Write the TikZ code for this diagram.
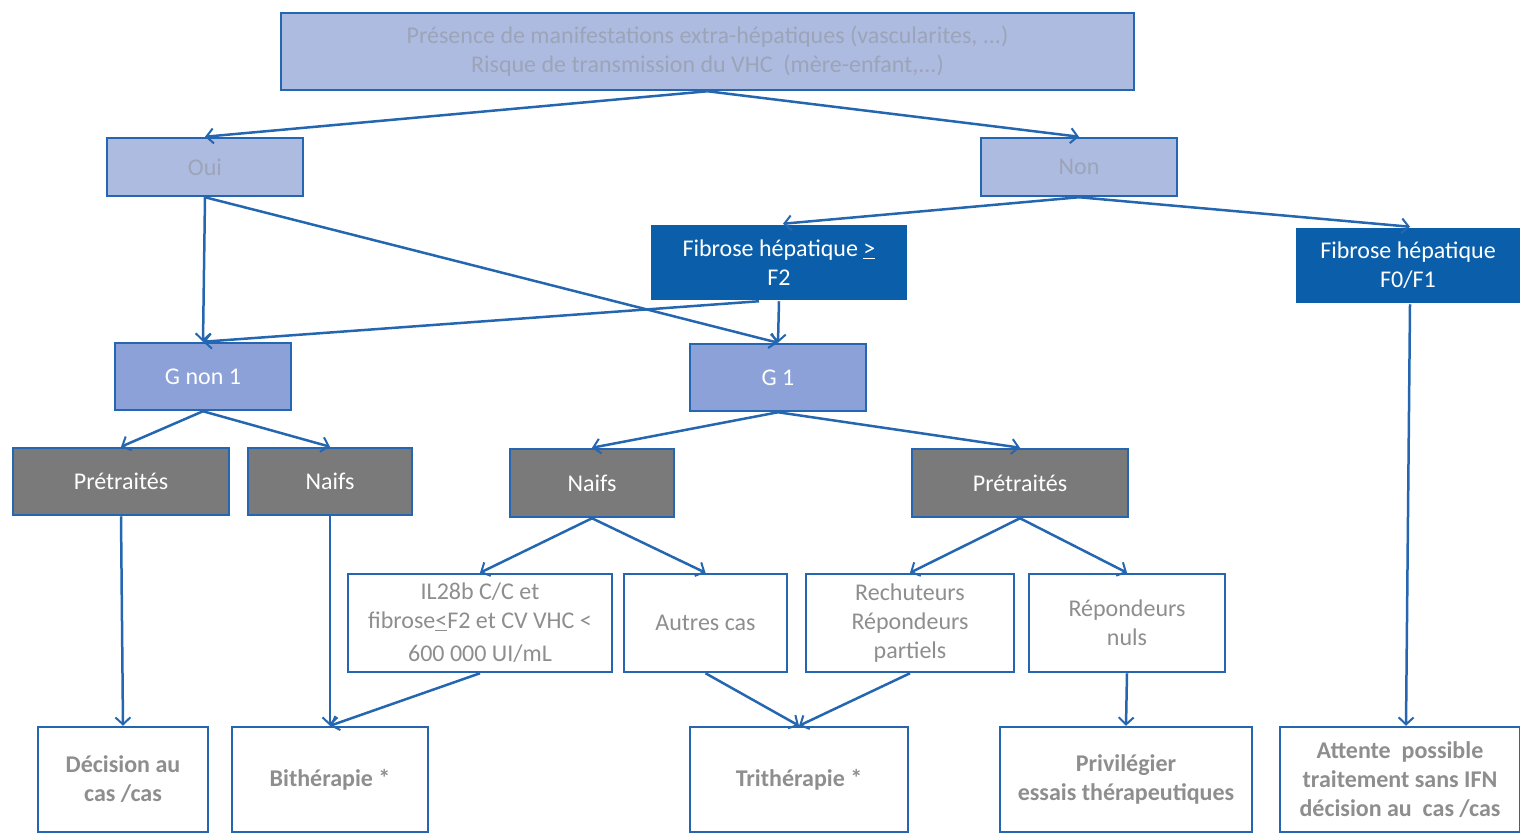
\documentclass[tikz,border=0pt]{standalone}
\usepackage{fontspec}
\setmainfont{Carlito}
\usetikzlibrary{arrows.meta}
\definecolor{bordblue}{HTML}{2467B0}
\definecolor{paleblue}{HTML}{AEBBE0}
\definecolor{midblue}{HTML}{8CA1D8}
\definecolor{darkblue}{HTML}{0B5EA9}
\definecolor{boxgray}{HTML}{7A7A7A}
\definecolor{txtgray}{HTML}{8E8E8E}
\definecolor{paletxt}{HTML}{9CA4B8}
\tikzset{
  box/.style={draw=bordblue, line width=2.5pt, inner sep=2pt, align=center,
    font=\fontsize{24}{29}\selectfont},
  palebox/.style={box, fill=paleblue, text=paletxt},
  gbox/.style={box, fill=midblue, text=white},
  fbox/.style={box, draw=none, fill=darkblue, text=white},
  graybox/.style={box, fill=boxgray, text=white},
  casebox/.style={box, fill=white, text=txtgray},
  endbox/.style={box, fill=white, text=txtgray, font=\fontsize{24}{29}\selectfont\bfseries},
  link/.style={draw=bordblue, line width=2.5pt, -{Straight Barb[length=7pt,width=15pt,line width=2pt]}}
}
\begin{document}
\begin{tikzpicture}[x=1pt,y=-1pt]
  \useasboundingbox (0,0) rectangle (1520,835);
  % first question
  \node[palebox, minimum width=853pt, minimum height=77pt] (top) at (707.5,51.5)
    {Présence de manifestations extra-hépatiques (vascularites, ...)\\Risque de transmission du VHC~ (mère-enfant,...)};
  \node[palebox, minimum width=196pt, minimum height=58pt] (oui) at (205,167) {Oui};
  \node[palebox, minimum width=196pt, minimum height=58pt] (non) at (1079,167) {Non};
  % fibrose
  \node[fbox, minimum width=256pt, minimum height=75pt] (f2) at (779,262.5) {Fibrose hépatique \underline{>}\\F2};
  \node[fbox, minimum width=224pt, minimum height=75pt] (f01) at (1408,265.5) {Fibrose hépatique\\F0/F1};
  % genotypes
  \node[gbox, minimum width=176pt, minimum height=67pt] (gn1) at (203,376.5) {G non 1};
  \node[gbox, minimum width=176pt, minimum height=67pt] (g1) at (778,377.5) {G 1};
  % patients
  \node[graybox, minimum width=216pt, minimum height=67pt] (pretL) at (121,481.5) {Prétraités};
  \node[graybox, minimum width=164pt, minimum height=67pt] (naifL) at (330,481.5) {Naifs};
  \node[graybox, minimum width=164pt, minimum height=68pt] (naifM) at (592,483) {Naifs};
  \node[graybox, minimum width=216pt, minimum height=68pt] (pretR) at (1020,483) {Prétraités};
  % cases
  \node[casebox, minimum width=264pt, minimum height=98pt] (il28) at (480,623)
    {IL28b C/C et\\fibrose\underline{<}F2 et CV VHC <\\[4pt]600 000 UI/mL};
  \node[casebox, minimum width=163pt, minimum height=98pt] (autres) at (705.5,623) {Autres cas};
  \node[casebox, minimum width=208pt, minimum height=98pt] (rech) at (910,623) {Rechuteurs\\Répondeurs\\partiels};
  \node[casebox, minimum width=196pt, minimum height=98pt] (repn) at (1127,623) {Répondeurs\\nuls};
  % decisions
  \node[endbox, minimum width=170pt, minimum height=105pt] (deci) at (123,779.5) {Décision au\\cas /cas};
  \node[endbox, minimum width=196pt, minimum height=105pt] (bithe) at (330,779.5) {Bithérapie *};
  \node[endbox, minimum width=218pt, minimum height=105pt] (trithe) at (799,779.5) {Trithérapie *};
  \node[endbox, minimum width=252pt, minimum height=105pt] (privi) at (1126,779.5) {Privilégier\\essais thérapeutiques};
  \node[endbox, minimum width=240pt, minimum height=105pt] (atte) at (1400,779.5)
    {Attente~ possible\\traitement sans IFN\\décision au~ cas /cas};
  % connectors
  \draw[link] (top.south) -- (oui.north);
  \draw[link] (top.south) -- (non.north);
  \draw[link] (oui.south) -- (gn1.north);
  \draw[link] (oui.south) -- (g1.north);
  \draw[link] (non.south) -- ([xshift=4pt]f2.north);
  \draw[link] (non.south) -- ([xshift=2pt]f01.north);
  \draw[link] (f2.south) -- (g1.north);
  \draw[link] ([xshift=-20pt]f2.south) -- (gn1.north);
  \draw[link] (gn1.south) -- (pretL.north);
  \draw[link] (gn1.south) -- (naifL.north);
  \draw[link] (g1.south) -- (naifM.north);
  \draw[link] (g1.south) -- (pretR.north);
  \draw[link] (naifM.south) -- (il28.north);
  \draw[link] (naifM.south) -- (autres.north);
  \draw[link] (pretR.south) -- (rech.north);
  \draw[link] (pretR.south) -- (repn.north);
  \draw[link] (pretL.south) -- (deci.north);
  \draw[link] (naifL.south) -- (bithe.north);
  \draw[link] (il28.south) -- (bithe.north);
  \draw[link] (autres.south) -- (trithe.north);
  \draw[link] (rech.south) -- (trithe.north);
  \draw[link] (repn.south) -- (privi.north);
  \draw[link] ([xshift=2pt]f01.south) -- ([xshift=6pt]atte.north);
\end{tikzpicture}
\end{document}
